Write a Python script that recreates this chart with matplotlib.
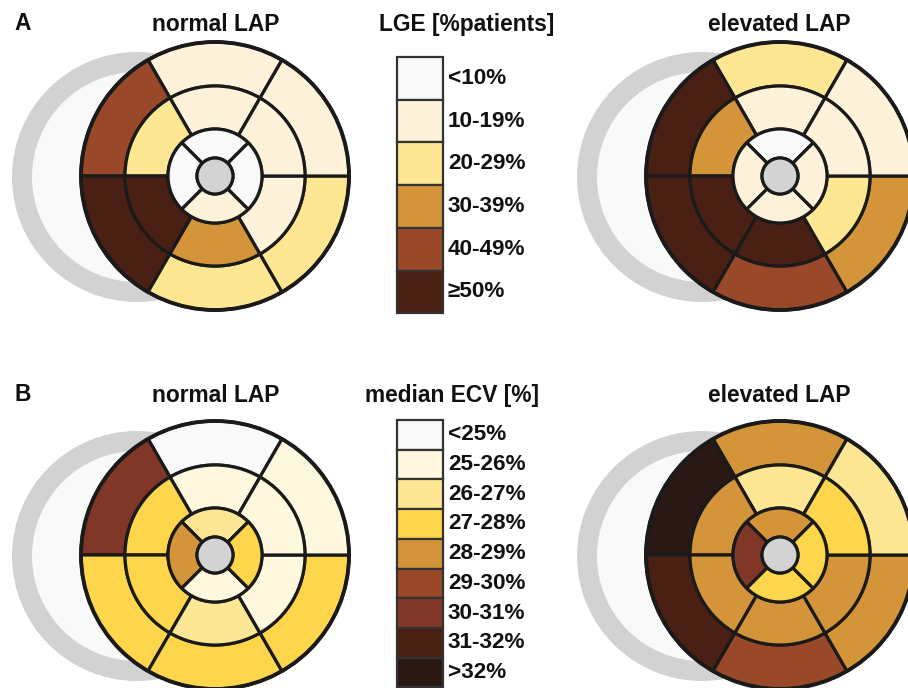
import matplotlib
matplotlib.use('Agg')
import matplotlib.pyplot as plt
from matplotlib.patches import Wedge, Circle, Rectangle

# ---------------- data ----------------
lge_levels = ['<10%', '10-19%', '20-29%', '30-39%', '40-49%', '≥50%']
lge_colors = ['#f9f9f9', '#fef3da', '#fee792', '#d4953a', '#99482a', '#4a1f14']

ecv_levels = ['<25%', '25-26%', '26-27%', '27-28%', '28-29%', '29-30%',
              '30-31%', '31-32%', '>32%']
ecv_colors = ['#f9f9f9', '#fef8df', '#fee794', '#fed64c', '#d4953a',
              '#99482a', '#813728', '#4a1f14', '#2a1815']

# AHA segments 1-16 (basal 1-6, mid 7-12, apical 13-16), value = level index
lge_normal   = [1, 4, 5, 2, 2, 1,  1, 2, 5, 3, 1, 1,  0, 0, 1, 0]
lge_elevated = [2, 5, 5, 4, 3, 1,  1, 3, 5, 5, 2, 1,  0, 1, 1, 1]
ecv_normal   = [0, 6, 3, 3, 3, 1,  1, 3, 3, 2, 1, 1,  2, 4, 1, 3]
ecv_elevated = [4, 8, 7, 5, 4, 2,  2, 4, 4, 4, 4, 3,  4, 6, 3, 3]

panel_titles = ['normal LAP', 'elevated LAP']
legend_titles = ['LGE [%patients]', 'median ECV [%]']
panel_letters = ['A', 'B']

# ---------------- figure ----------------
W, H = 908, 688
fig = plt.figure(figsize=(W / 100, H / 100), dpi=100)
ax = fig.add_axes([0, 0, 1, 1])
ax.set_xlim(0, W)
ax.set_ylim(H, 0)
ax.axis('off')

FONT = dict(family=['Liberation Sans', 'DejaVu Sans'], fontweight='bold')
EDGE = '#1a1a1a'


def wedge(cx, cy, r, a1, a2, width, color, lw=2.3):
    # visual angles (counter-clockwise); y axis is inverted
    ax.add_patch(Wedge((cx, cy), r, -a2, -a1, width=width, facecolor=color,
                       edgecolor=EDGE, lw=lw, joinstyle='round'))


def bullseye(cx, cy, values, colors):
    # background gray "heart" ring
    gx = cx - 78
    ax.add_patch(Circle((gx, cy + 1), 125, facecolor='#d2d2d2', edgecolor='none'))
    ax.add_patch(Circle((gx, cy + 1), 105, facecolor='#f9f9f9', edgecolor='none'))
    r_b, r_m, r_a, r_c = 134, 90, 47, 18
    for i in range(6):
        a1 = 60 + 60 * i
        wedge(cx, cy, r_b, a1, a1 + 60, r_b - r_m, colors[values[i]])
    for i in range(6):
        a1 = 60 + 60 * i
        wedge(cx, cy, r_m, a1, a1 + 60, r_m - r_a, colors[values[6 + i]])
    for i in range(4):
        a1 = 45 + 90 * i
        wedge(cx, cy, r_a, a1, a1 + 90, r_a - r_c, colors[values[12 + i]])
    ax.add_patch(Circle((cx, cy), r_b, facecolor='none', edgecolor=EDGE, lw=2.8))
    ax.add_patch(Circle((cx, cy), r_c, facecolor='#d3d3d3', edgecolor=EDGE, lw=2.3))


def legend(x, y0, h, levels, colors):
    for i, (lab, col) in enumerate(zip(levels, colors)):
        y = y0 + i * h
        ax.add_patch(Rectangle((x, y), 46, h, facecolor=col, edgecolor='#333333', lw=1.6))
        ax.text(x + 51, y + h / 2, lab, ha='left', va='center', fontsize=16.2,
                color='#111111', **FONT)


rows = [
    dict(cy=176, base=31, data=(lge_normal, lge_elevated), levels=lge_levels,
         colors=lge_colors, ly=57, lh=42.7, ltx=467),
    dict(cy=555, base=402, data=(ecv_normal, ecv_elevated), levels=ecv_levels,
         colors=ecv_colors, ly=420, lh=29.7, ltx=452),
]

for k, row in enumerate(rows):
    for j, cx in enumerate([215, 780]):
        bullseye(cx, row['cy'], row['data'][j], row['colors'])
        ax.text(cx + 1 - 2 * j, row['base'], panel_titles[j], ha='center', va='baseline',
                fontsize=16.4, color='#111111', **FONT)
    legend(397, row['ly'], row['lh'], row['levels'], row['colors'])
    ax.text(row['ltx'], row['base'], legend_titles[k], ha='center', va='baseline',
            fontsize=16.4, color='#111111', **FONT)
    ax.text(14, row['base'] - 1, panel_letters[k], ha='left', va='baseline',
            fontsize=16.4, color='#111111', **FONT)

fig.savefig('out.png', dpi=100, facecolor='white')
